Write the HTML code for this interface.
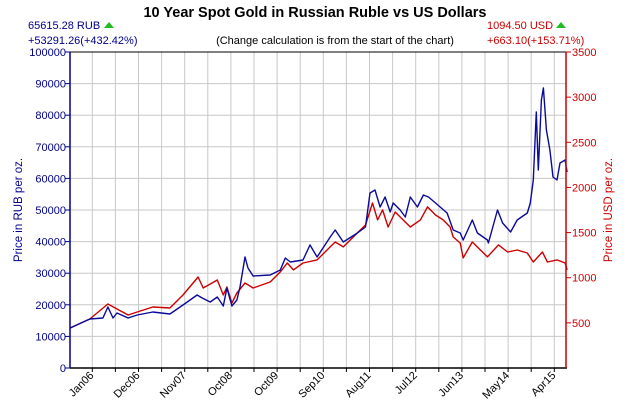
<!DOCTYPE html>
<html><head><meta charset="utf-8"><style>
body{margin:0;background:#fff;}
svg{display:block;font-family:"Liberation Sans",Arial,sans-serif;}
</style></head><body>
<svg id="chart" width="630" height="400" viewBox="0 0 630 400" xmlns="http://www.w3.org/2000/svg">
<text x="315" y="17" text-anchor="middle" font-size="14.5" font-weight="bold" fill="#000">10 Year Spot Gold in Russian Ruble vs US Dollars</text>
<text x="28" y="29" font-size="11" fill="#00008b">65615.28 RUB</text>
<polygon points="104,28 109,22 114,28" fill="#22bb22"/>
<text x="28" y="44" font-size="11" fill="#00008b">+53291.26(+432.42%)</text>
<text x="335" y="44" text-anchor="middle" font-size="11" fill="#000">(Change calculation is from the start of the chart)</text>
<text x="487" y="29" font-size="11" fill="#cc0000">1094.50 USD</text>
<polygon points="556,28 561,22 566,28" fill="#22bb22"/>
<text x="487" y="44" font-size="11" fill="#cc0000">+663.10(+153.71%)</text>
<text transform="translate(22,210) rotate(-90)" text-anchor="middle" font-size="11.5" fill="#00008b">Price in RUB per oz.</text>
<text transform="translate(612,210) rotate(-90)" text-anchor="middle" font-size="11.5" fill="#cc0000">Price in USD per oz.</text>
<g id="grid"></g><g id="series"></g><g id="axes"></g>
</svg>
<script>
const rubDates=[2005.56,2005.95,2006.21,2006.31,2006.41,2006.49,2006.71,2006.89,2007.20,2007.54,2007.80,2008.08,2008.18,2008.34,2008.48,2008.60,2008.67,2008.77,2008.87,2008.93,2009.03,2009.09,2009.19,2009.53,2009.73,2009.83,2009.93,2010.18,2010.32,2010.46,2010.72,2010.82,2010.98,2011.26,2011.42,2011.51,2011.61,2011.71,2011.81,2011.91,2011.97,2012.11,2012.21,2012.31,2012.45,2012.57,2012.67,2012.81,2013.04,2013.16,2013.30,2013.36,2013.54,2013.64,2013.84,2013.86,2014.04,2014.14,2014.30,2014.43,2014.63,2014.69,2014.75,2014.81,2014.85,2014.91,2014.95,2015.01,2015.08,2015.14,2015.22,2015.28,2015.38,2015.42];
const rubValues=[12660,15510,15820,19310,15820,17410,15820,16770,17720,17090,19940,23100,22150,20890,22470,19620,25320,19620,21520,25640,35130,31650,29120,29430,31020,34810,33550,34180,38930,35130,41460,43680,39880,42730,44630,55390,56340,50960,54120,49370,52220,50010,47790,54120,50960,54750,54120,52220,49060,43680,42730,40510,46840,42730,40510,39560,50010,45890,43040,46840,49060,52220,59500,81020,62670,84820,88620,75330,69000,60450,59500,64880,65830,62030];
const usdDates=[2005.56,2005.95,2006.31,2006.49,2006.71,2006.89,2007.20,2007.54,2007.80,2008.10,2008.20,2008.48,2008.60,2008.67,2008.77,2008.87,2009.03,2009.19,2009.53,2009.73,2009.87,2009.99,2010.18,2010.46,2010.72,2010.82,2010.98,2011.26,2011.42,2011.56,2011.66,2011.76,2011.87,2012.01,2012.11,2012.31,2012.51,2012.65,2012.81,2012.96,2013.10,2013.16,2013.30,2013.36,2013.54,2013.70,2013.84,2014.06,2014.24,2014.43,2014.63,2014.75,2014.93,2015.03,2015.22,2015.38,2015.42];
const usdValues=[443,543,709,654,587,620,676,665,809,1008,886,975,809,897,720,831,942,886,953,1064,1163,1086,1163,1197,1341,1396,1341,1496,1584,1828,1640,1751,1562,1728,1673,1562,1640,1784,1695,1640,1562,1451,1385,1219,1396,1307,1230,1363,1285,1307,1274,1174,1285,1174,1197,1163,1086];
const xLabels=["Jan06","Dec06","Nov07","Oct08","Oct09","Sep10","Aug11","Jul12","Jun13","May14","Apr15"];
const rubTicks=[0,10000,20000,30000,40000,50000,60000,70000,80000,90000,100000];
const usdTicks=[500,1000,1500,2000,2500,3000,3500];

const NS="http://www.w3.org/2000/svg";
const L=70,R=566,T=52,B=368;
const X0=92.3,PXY=50.4;
function xs(t){return X0+(t-2006.0)*PXY;}
function yl(v){return B-(v/100000)*(B-T);}
function yr(v){return B-(v/3500)*(B-T);}
function mk(tag,attrs,parent){const e=document.createElementNS(NS,tag);for(const k in attrs)e.setAttribute(k,attrs[k]);parent.appendChild(e);return e;}
const grid=document.getElementById('grid'),series=document.getElementById('series'),axes=document.getElementById('axes');
for(let k=0;k<=20;k++){
  const x=X0+k*23.1;
  const g=mk('line',{x1:x,x2:x,y1:T,y2:B,stroke:'#c8c8c8','stroke-width':1},grid);
  
  
  mk('line',{x1:x,x2:x,y1:B,y2:B+4,stroke:'#000','stroke-width':1},axes);
}
rubTicks.forEach(v=>{
  const y=yl(v);
  if(v>0&&v<100000){const g=mk('line',{x1:L,x2:R,y1:y,y2:y,stroke:'#c8c8c8','stroke-width':1},grid);
  
  }
  mk('line',{x1:L-5,x2:L,y1:y,y2:y,stroke:'#00008b','stroke-width':1},axes);
  const t=mk('text',{x:L-4,y:y+4,'text-anchor':'end','font-size':11,fill:'#00008b'},axes);
  t.textContent=v;
  
  
});
usdTicks.forEach(v=>{
  const y=yr(v);
  mk('line',{x1:R,x2:R+5,y1:y,y2:y,stroke:'#cc0000','stroke-width':1},axes);
  const t=mk('text',{x:R+6,y:y+4,'font-size':11,fill:'#cc0000'},axes);
  t.textContent=v;
  
  
});
xLabels.forEach((s,i)=>{
  const x=X0+i*2*23.1;
  const t=mk('text',{transform:`translate(${x+2},${B+8}) rotate(-45)`,'text-anchor':'end','font-size':11,fill:'#000'},axes);
  t.textContent=s;
  
  
});
let a=mk('line',{x1:L,x2:R,y1:T,y2:T,stroke:'#000','stroke-width':1},axes);


a=mk('line',{x1:L,x2:R+1,y1:B,y2:B,stroke:'#000','stroke-width':1.5},axes);


a=mk('line',{x1:L,x2:L,y1:T,y2:B,stroke:'#00008b','stroke-width':1.5},axes);


a=mk('line',{x1:R,x2:R,y1:T,y2:B,stroke:'#cc0000','stroke-width':1.5},axes);


let pu=usdDates.map((d,i)=>xs(d).toFixed(1)+','+yr(usdValues[i]).toFixed(1)).join(' ');
const su=mk('polyline',{points:pu,fill:'none',stroke:'#cc0000','stroke-width':1.4,'stroke-linejoin':'round'},series);


let pr=rubDates.map((d,i)=>xs(d).toFixed(1)+','+yl(rubValues[i]).toFixed(1)).join(' ');
const sr=mk('polyline',{points:pr,fill:'none',stroke:'#0a0a9a','stroke-width':1.4,'stroke-linejoin':'round'},series);


</script>
</body></html>
